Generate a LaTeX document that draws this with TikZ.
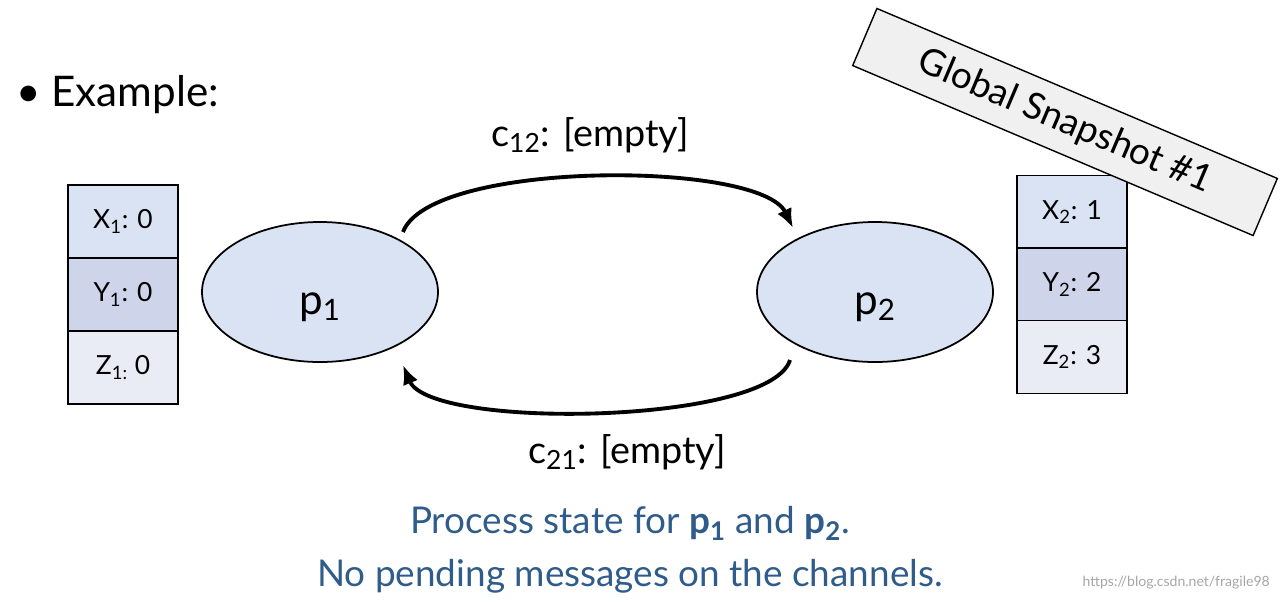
\documentclass[tikz,border=0pt]{standalone}
\usepackage{fontspec}
\setmainfont{Lato}
\usetikzlibrary{arrows.meta}
\definecolor{bA}{HTML}{DAE3F3}
\definecolor{bB}{HTML}{CED5EA}
\definecolor{bC}{HTML}{E9EBF5}
\definecolor{tblue}{HTML}{2F5C8A}
\begin{document}
\begin{tikzpicture}[x=0.02cm,y=-0.02cm,
  cell/.style={draw=black,line width=0.8pt,minimum width=110*0.02cm,minimum height=73*0.02cm,inner sep=0pt,font=\fontsize{15}{17}\selectfont},
  arc/.style={line width=2.2pt,-{Latex[length=11pt,width=9pt]}},
  lab/.style={font=\fontsize{21.5}{24}\selectfont}]
\useasboundingbox (0,0) rectangle (1283,603);
\node[anchor=west,font=\fontsize{24}{28}\selectfont] (ex) at (10,95) {• Example:};
\draw[line width=1pt,fill=bA] (320,292) ellipse [x radius=118,y radius=70];
\node[font=\fontsize{24}{26}\selectfont] (p1) at (320,307) {p\textsubscript{1}};
\draw[line width=1pt,fill=bA] (875,292) ellipse [x radius=118,y radius=70];
\node[font=\fontsize{24}{26}\selectfont] (p2) at (875,307) {p\textsubscript{2}};
\coordinate (a1) at (403,232); \coordinate (a2) at (793,228);
\coordinate (b1) at (790,360); \coordinate (b2) at (403,365);
\draw[arc] (a1) .. controls (430,160) and (760,160) .. (a2);
\draw[arc] (b1) .. controls (770,425) and (430,430) .. (b2);
\node[lab] (c12) at (590,135) {c\textsubscript{12}: [empty]};
\node[lab] (c21) at (627,452) {c\textsubscript{21}: [empty]};
\node[cell,fill=bA] (x1) at (123,221.5) {X\textsubscript{1}: 0};
\node[cell,fill=bB] (y1) at (123,294.5) {Y\textsubscript{1}: 0};
\node[cell,fill=bC] (z1) at (123,367.5) {Z\textsubscript{1:} 0};
\node[cell,fill=bA] (x2) at (1072,212) {X\textsubscript{2}: 1};
\node[cell,fill=bB] (y2) at (1072,284.5) {Y\textsubscript{2}: 2};
\node[cell,fill=bC] (z2) at (1072,357) {Z\textsubscript{2}: 3};
\node[draw=black,line width=0.8pt,fill=black!6,rotate=-23,minimum width=435*0.02cm,minimum height=62*0.02cm,font=\fontsize{21}{24}\selectfont] (gs) at (1065,122) {Global Snapshot \#1};
\node[text=tblue,align=center,font=\fontsize{21}{30}\selectfont] (txt) at (630,550) {Process state for \textbf{p\textsubscript{1}} and \textbf{p\textsubscript{2}}.\\No pending messages on the channels.};
\node[anchor=east,text=black!35,font=\fontsize{8}{9}\selectfont] (wm) at (1276,583) {https://blog.csdn.net/fragile98};
\end{tikzpicture}
\end{document}
